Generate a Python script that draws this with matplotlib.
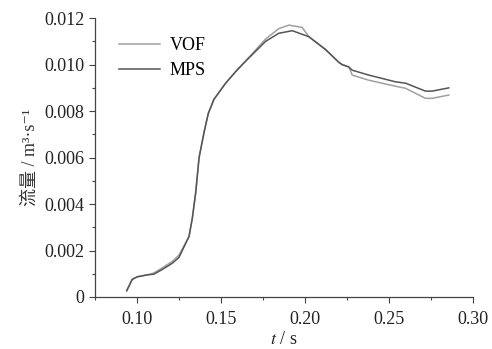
import matplotlib
matplotlib.use("Agg")
import matplotlib.pyplot as plt
from matplotlib.ticker import MultipleLocator, FixedLocator

plt.rcParams['font.family'] = ['Liberation Serif', 'Noto Sans CJK SC', 'DejaVu Sans']
plt.rcParams['mathtext.fontset'] = 'stix'

t_mps = [0.0939, 0.0972, 0.1002, 0.106, 0.110, 0.115, 0.121, 0.125, 0.131, 0.133,
         0.135, 0.137, 0.140, 0.1425, 0.1458, 0.1508, 0.1528, 0.1588, 0.1627, 0.1766,
         0.1845, 0.1925, 0.2024, 0.2123, 0.2202, 0.2222, 0.2262, 0.2282, 0.238, 0.254,
         0.260, 0.2718, 0.2758, 0.2857]
q_mps = [0.00027, 0.00076, 0.00087, 0.00095, 0.00098, 0.00118, 0.00145, 0.0017, 0.0026, 0.0034,
         0.0045, 0.0060, 0.0071, 0.0079, 0.0085, 0.0090, 0.0092, 0.0097, 0.0100, 0.0110,
         0.01135, 0.01146, 0.0112, 0.01065, 0.0101, 0.0100, 0.0099, 0.00976, 0.00955, 0.00926,
         0.0092, 0.00886, 0.00886, 0.0090]

t_vof = [0.0939, 0.0972, 0.1002, 0.106, 0.110, 0.115, 0.121, 0.125, 0.131, 0.133,
         0.135, 0.137, 0.140, 0.1425, 0.1458, 0.1508, 0.1528, 0.1588, 0.1627, 0.1766,
         0.1845, 0.1905, 0.1984, 0.2024, 0.2123, 0.2202, 0.2222, 0.2262, 0.2282, 0.238,
         0.254, 0.260, 0.2718, 0.2758, 0.2857]
q_vof = [0.00027, 0.00076, 0.00087, 0.00095, 0.00103, 0.00125, 0.00153, 0.0018, 0.0026, 0.0034,
         0.0045, 0.0060, 0.0071, 0.0079, 0.0085, 0.0090, 0.0092, 0.0097, 0.0100, 0.0111,
         0.01155, 0.0117, 0.0116, 0.0112, 0.01065, 0.0101, 0.0100, 0.0099, 0.00955, 0.00933,
         0.00907, 0.00898, 0.00855, 0.00855, 0.00869]

x_ticks = [0.10, 0.15, 0.20, 0.25, 0.30]
x_labels = ['0.10', '0.15', '0.20', '0.25', '0.30']
y_ticks = [0, 0.002, 0.004, 0.006, 0.008, 0.010, 0.012]
y_labels = ['0', '0.002', '0.004', '0.006', '0.008', '0.010', '0.012']

fig = plt.figure(figsize=(4.92, 3.49), dpi=100)
ax = fig.add_axes([0.193, 0.149, 0.768, 0.799])

ax.plot(t_vof, q_vof, color='#a0a0a0', lw=1.1, label='VOF')
ax.plot(t_mps, q_mps, color='#555555', lw=1.1, label='MPS')

ax.set_xlim(0.075, 0.30)
ax.set_ylim(0, 0.012)
ax.set_xticks(x_ticks)
ax.set_xticklabels(x_labels)
ax.set_yticks(y_ticks)
ax.set_yticklabels(y_labels)
ax.xaxis.set_minor_locator(FixedLocator([0.075, 0.125, 0.175, 0.225, 0.275]))
ax.yaxis.set_minor_locator(MultipleLocator(0.001))

for s in ['top', 'right']:
    ax.spines[s].set_visible(False)
for s in ['left', 'bottom']:
    ax.spines[s].set_color('#444444')
    ax.spines[s].set_linewidth(0.9)

ax.tick_params(axis='both', which='major', direction='out', length=4, width=0.8,
               colors='#444444', labelcolor='#222222', labelsize=13)
ax.tick_params(axis='x', which='major', pad=6)
ax.tick_params(axis='both', which='minor', direction='out', length=2.5, width=0.8, colors='#444444')

ax.set_xlabel(r'$t$ / s', fontsize=13, color='#222222', labelpad=2)
ax.set_ylabel('流量 / m³·s⁻¹', fontsize=13, color='#333333', labelpad=4,
              family=['Liberation Serif', 'Noto Sans CJK SC', 'DejaVu Sans'])

leg = ax.legend(loc='upper left', bbox_to_anchor=(0.02, 0.99), frameon=False, fontsize=13,
                handlelength=2.3, handletextpad=0.5, labelspacing=0.45)

fig.savefig('out.png', dpi=100)
